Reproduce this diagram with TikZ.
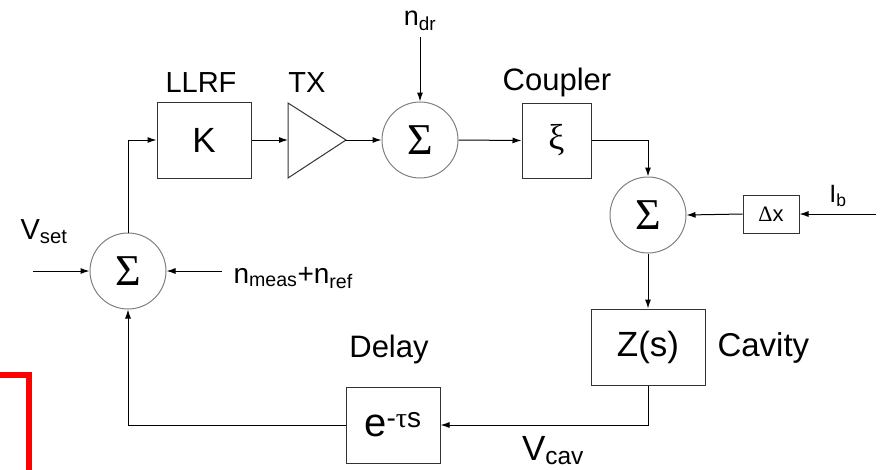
\documentclass[tikz,border=0pt]{standalone}
\usepackage{fontspec}
\setmainfont{Liberation Sans}
\newfontfamily\grfont{Liberation Serif}
\usetikzlibrary{arrows.meta}
\newcommand{\fs}[1]{\fontsize{#1}{#1}\selectfont}
\begin{document}
\begin{tikzpicture}[x=1pt,y=-1pt,
  line width=1pt,
  >={Latex[length=9pt,width=6pt]},
  sumnode/.style={circle, draw=black!50, minimum size=76pt, inner sep=0pt, font=\grfont\fs{44}},
  blockbox/.style={rectangle, draw=black!80, inner sep=0pt},
  lbl/.style={inner sep=0pt, anchor=base},
  conn/.style={->, draw=black}]

\useasboundingbox (0,0) rectangle (885,469);

% blocks
\node[sumnode] (s1) at (128,271) {Σ};
\node[blockbox, minimum width=94pt, minimum height=76pt, font=\fs{35}] (K) at (204,140) {K};
\draw[draw=black!80] (288,103) -- (346,140) -- (288,178) -- cycle;
\coordinate (txin) at (288,140);
\coordinate (txout) at (346,140);
\node[sumnode] (s2) at (420,140) {Σ};
\node[blockbox, minimum width=69pt, minimum height=75pt, font=\grfont\fs{36}] (xi) at (556.5,140.5) {ξ};
\node[sumnode] (s3) at (648,215) {Σ};
\node[blockbox, minimum width=56pt, minimum height=38pt, font=\fs{22}] (dx) at (771,214) {{\grfont Δ}x};
\node[blockbox, minimum width=114pt, minimum height=76pt, font=\fs{35}] (Z) at (648,347) {Z(s)};
\node[blockbox, minimum width=94pt, minimum height=76pt, font=\fs{40}] (D) at (393,425) {e\textsuperscript{-{\grfont τ}s}};

% free ends
\coordinate (vset) at (33,271);
\coordinate (nm) at (222,271);
\coordinate (ndr) at (420,37);
\coordinate (ib) at (876,214);

% connectors
\draw[conn] (vset) -- (s1.west);
\draw[conn] (nm) -- (s1.east);
\draw[conn] (s1.north) |- (K.west);
\draw[conn] (K.east) -- (txin);
\draw[conn] (txout) -- (s2.west);
\draw[conn] (ndr) -- (s2.north);
\draw[conn] (s2.east) -- (xi.west);
\draw[conn] (xi.east) -| (s3.north);
\draw[conn] (ib) -- (dx.east);
\draw[conn] (dx.west) -- (s3.east);
\draw[conn] (s3.south) -- (Z.north);
\draw[conn] (Z.south) |- (D.east);
\draw[conn] (D.west) -| (s1.south);

% labels
\node[lbl, font=\fs{29}] (llrf) at (201,92) {LLRF};
\node[lbl, font=\fs{29}] (tx) at (307,92) {TX};
\node[lbl, font=\fs{27}] (ndrl) at (420,25) {n\textsubscript{dr}};
\node[lbl, font=\fs{31}] (coup) at (557,90) {Coupler};
\node[lbl, font=\fs{25}] (ibl) at (838,202) {I\textsubscript{b}};
\node[lbl, font=\fs{29}] (vsetl) at (44,239) {V\textsubscript{set}};
\node[lbl, font=\fs{28}, anchor=base west] (nml) at (233,283) {n\textsubscript{meas}+n\textsubscript{ref}};
\node[lbl, font=\fs{31}] (delay) at (389,357) {Delay};
\node[lbl, font=\fs{33}, anchor=base west] (cav) at (717,356) {Cavity};
\node[lbl, font=\fs{35}] (vcav) at (553,460) {V\textsubscript{cav}};

% red mark
\draw[red, line width=6pt] (0,375) -- (29,375) -- (29,475);
\end{tikzpicture}
\end{document}
